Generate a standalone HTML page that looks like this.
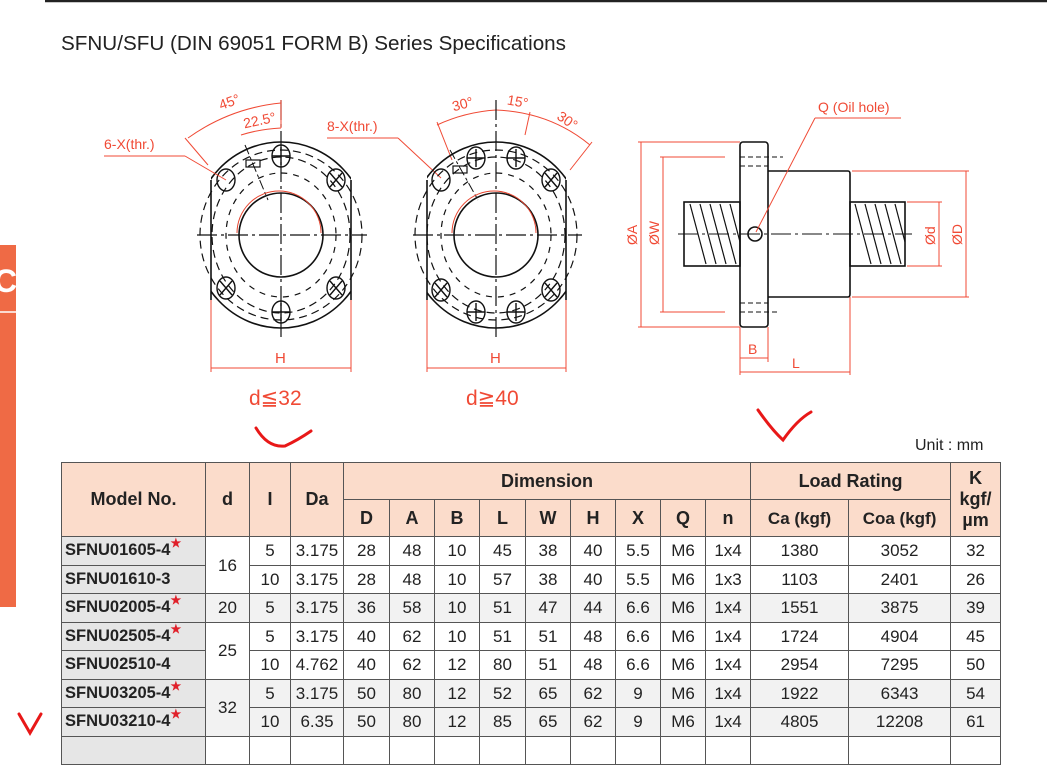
<!DOCTYPE html>
<html><head><meta charset="utf-8">
<style>
body{margin:0;width:1047px;height:739px;overflow:hidden;background:#fff;font-family:"Liberation Sans",sans-serif;position:relative}
svg{position:absolute;left:0;top:0}
table{position:absolute;left:61px;top:462px;border-collapse:collapse;table-layout:fixed;width:939px;font-family:"Liberation Sans",sans-serif;color:#222}
td{border:1.5px solid #555;text-align:center;padding:0;font-size:17px;height:27.5px;line-height:27px}
tr.h td{background:#fbdccb;font-weight:bold;font-size:18px}
td.m{background:#e6e6e6;font-weight:bold;text-align:left;padding-left:3px;font-size:16.5px}
tr.s td{background:#f2f2f2}
tr.s td.m{background:#e6e6e6}
.st{color:#e0202a;font-size:12px;vertical-align:top;line-height:12px}
</style></head><body>
<svg width="1047" height="739" viewBox="0 0 1047 739" font-family="Liberation Sans, sans-serif">
<line x1="45" y1="1" x2="1047" y2="1" stroke="#222" stroke-width="2.5"/>
<rect x="0" y="245" width="16" height="362" fill="#ef6a45"/>
<line x1="0" y1="312" x2="16" y2="312" stroke="#fff" stroke-width="1.5"/>
<text x="-6" y="292" font-size="32" fill="#fff" font-weight="bold">C</text>
<text x="61" y="50" font-size="20" fill="#222" textLength="505" lengthAdjust="spacingAndGlyphs">SFNU/SFU (DIN 69051 FORM B) Series Specifications</text>

<!-- drawing 1 -->
<g fill="none" stroke="#111" stroke-width="1.6">
<clipPath id="c1"><rect x="211" y="100" width="140" height="250"/></clipPath>
<ellipse cx="281" cy="235" rx="88" ry="93" clip-path="url(#c1)"/>
<line x1="211" y1="180" x2="211" y2="300"/><line x1="351" y1="180" x2="351" y2="300"/>
<ellipse cx="281" cy="235" rx="81" ry="85" stroke-dasharray="8,5" stroke-width="1.2"/>
<ellipse cx="281" cy="235" rx="69" ry="78" stroke-dasharray="8,5" stroke-width="1.2"/>
<ellipse cx="281" cy="235" rx="55" ry="62" stroke-dasharray="6,6" stroke-width="1.2"/>
<ellipse cx="281" cy="235" rx="42" ry="42"/>
<g stroke-width="1.4">
<ellipse cx="281" cy="156" rx="9" ry="11"/><ellipse cx="281" cy="312" rx="9" ry="11"/>
<ellipse cx="226" cy="180" rx="9" ry="11"/><ellipse cx="336" cy="180" rx="9" ry="11"/>
<ellipse cx="226" cy="288" rx="9" ry="11"/><ellipse cx="336" cy="288" rx="9" ry="11"/>
<path d="M330 173l12 14M342 173l-12 14M220 281l12 14M232 281l-12 14M330 281l12 14M342 281l-12 14M272 156h18M281 147v18M272 312h18M281 303v18"/>
</g>
<line x1="197" y1="235" x2="367" y2="235" stroke-dasharray="20,4,3,4" stroke-width="1.2"/>
<line x1="281" y1="100" x2="281" y2="337" stroke-dasharray="20,4,3,4" stroke-width="1.2"/>
<line x1="245" y1="145" x2="268" y2="200" stroke-dasharray="10,3,3,3" stroke-width="1"/>
<rect x="246" y="160" width="14" height="7" stroke-width="1.2"/>
</g>
<path d="M239 235 A42 42 0 0 1 323 235" fill="none" stroke="#e8452f" stroke-width="1" transform="translate(-2,-2)"/>
<g stroke="#f04a35" fill="none" stroke-width="1">
<path d="M188 138 Q230 108 281 103"/><line x1="281" y1="100" x2="281" y2="128"/>
<path d="M241 135 Q260 129 281 128"/>
<line x1="185" y1="138" x2="208" y2="165"/>
<line x1="104" y1="156" x2="185" y2="156"/><line x1="185" y1="156" x2="226" y2="180"/>
<line x1="211" y1="300" x2="211" y2="372"/><line x1="351" y1="300" x2="351" y2="372"/>
<line x1="211" y1="368" x2="351" y2="368"/>
<line x1="427" y1="300" x2="427" y2="372"/><line x1="566" y1="300" x2="566" y2="372"/>
<line x1="427" y1="368" x2="566" y2="368"/>
<line x1="327" y1="138" x2="398" y2="138"/><line x1="398" y1="138" x2="441" y2="178"/>
<path d="M437 125 Q465 112 496 110"/><path d="M496 110 Q550 112 590 145"/>
<line x1="437" y1="122" x2="452" y2="160"/><line x1="530" y1="112" x2="525" y2="135"/>
<line x1="592" y1="142" x2="570" y2="170"/>
</g>
<g fill="#f04a35" font-size="14">
<text x="104" y="149">6-X(thr.)</text>
<text x="218" y="107" transform="rotate(-20 228 100)">45°</text>
<text x="243" y="126" transform="rotate(-12 255 120)">22.5°</text>
<text x="327" y="131">8-X(thr.)</text>
<text x="452" y="109" transform="rotate(-15 462 104)">30°</text>
<text x="507" y="106" transform="rotate(10 516 102)">15°</text>
<text x="558" y="124" transform="rotate(35 566 118)">30°</text>
<text x="275" y="363" font-size="15">H</text>
<text x="490" y="363" font-size="15">H</text>
<text x="249" y="405" font-size="21">d≦32</text>
<text x="466" y="405" font-size="21">d≧40</text>
</g>

<!-- drawing 2 -->
<g fill="none" stroke="#111" stroke-width="1.6">
<clipPath id="c2"><rect x="427" y="100" width="139" height="250"/></clipPath>
<ellipse cx="496" cy="235" rx="88" ry="93" clip-path="url(#c2)"/>
<line x1="427" y1="180" x2="427" y2="300"/><line x1="566" y1="180" x2="566" y2="300"/>
<ellipse cx="496" cy="235" rx="81" ry="85" stroke-dasharray="8,5" stroke-width="1.2"/>
<ellipse cx="496" cy="235" rx="69" ry="78" stroke-dasharray="8,5" stroke-width="1.2"/>
<ellipse cx="496" cy="235" rx="55" ry="62" stroke-dasharray="6,6" stroke-width="1.2"/>
<ellipse cx="496" cy="235" rx="42" ry="42"/>
<g stroke-width="1.4">
<ellipse cx="441" cy="180" rx="9" ry="11"/><ellipse cx="476" cy="158" rx="9" ry="11"/>
<ellipse cx="516" cy="158" rx="9" ry="11"/><ellipse cx="551" cy="180" rx="9" ry="11"/>
<ellipse cx="441" cy="290" rx="9" ry="11"/><ellipse cx="476" cy="312" rx="9" ry="11"/>
<ellipse cx="516" cy="312" rx="9" ry="11"/><ellipse cx="551" cy="290" rx="9" ry="11"/>
<path d="M545 173l12 14M557 173l-12 14M435 283l12 14M447 283l-12 14M545 283l12 14M557 283l-12 14M467 158h18M476 149v18M507 158h18M516 149v18M467 312h18M476 303v18M507 312h18M516 303v18"/>
</g>
<line x1="413" y1="235" x2="582" y2="235" stroke-dasharray="20,4,3,4" stroke-width="1.2"/>
<line x1="496" y1="100" x2="496" y2="337" stroke-dasharray="20,4,3,4" stroke-width="1.2"/>
<line x1="450" y1="150" x2="478" y2="200" stroke-dasharray="10,3,3,3" stroke-width="1"/>
<rect x="453" y="166" width="14" height="7" stroke-width="1.2"/>
</g>
<path d="M454 235 A42 42 0 0 1 538 235" fill="none" stroke="#e8452f" stroke-width="1" transform="translate(-2,-2)"/>

<!-- drawing 3 -->
<g fill="none" stroke="#111" stroke-width="1.6">
<rect x="740" y="142" width="28" height="185" rx="3"/>
<path d="M768 171 H848 Q850 171 850 174 V294 Q850 297 848 297 H768"/>
<rect x="684" y="202" width="56" height="64"/>
<rect x="850" y="202" width="55" height="64"/>
<g stroke-width="1.2">
<path d="M690 204l16 60M700 204l16 60M710 204l16 60M720 204l16 60M730 204l10 38"/>
<path d="M855 204l16 60M865 204l16 60M875 204l16 60M885 204l16 60M895 204l10 38"/>
</g>
<ellipse cx="755" cy="234" rx="7" ry="7"/>
<g stroke-width="1" stroke-dasharray="5,3"><line x1="740" y1="157" x2="783" y2="157"/><line x1="740" y1="166" x2="768" y2="166"/><line x1="740" y1="303" x2="768" y2="303"/><line x1="740" y1="312" x2="780" y2="312"/></g>
<line x1="678" y1="234" x2="912" y2="234" stroke-dasharray="20,4,3,4" stroke-width="1"/>
</g>
<g stroke="#f04a35" fill="none" stroke-width="1">
<line x1="638" y1="142" x2="740" y2="142"/><line x1="638" y1="327" x2="740" y2="327"/>
<line x1="641" y1="142" x2="641" y2="327"/>
<line x1="660" y1="157" x2="725" y2="157"/><line x1="660" y1="312" x2="725" y2="312"/>
<line x1="663" y1="157" x2="663" y2="312"/>
<line x1="852" y1="171" x2="969" y2="171"/><line x1="852" y1="297" x2="969" y2="297"/>
<line x1="966" y1="171" x2="966" y2="297"/>
<line x1="907" y1="202" x2="942" y2="202"/><line x1="907" y1="266" x2="942" y2="266"/>
<line x1="939" y1="202" x2="939" y2="266"/>
<line x1="740" y1="327" x2="740" y2="375"/><line x1="768" y1="327" x2="768" y2="362"/><line x1="850" y1="297" x2="850" y2="375"/>
<line x1="740" y1="358" x2="768" y2="358"/><line x1="740" y1="372" x2="850" y2="372"/>
<line x1="815" y1="118" x2="901" y2="118"/><line x1="815" y1="118" x2="756" y2="232"/>
</g>
<g fill="#f04a35" font-size="14">
<text x="818" y="112">Q (Oil hole)</text>
<text x="748" y="354">B</text><text x="792" y="368">L</text>
<text transform="translate(637 245) rotate(-90)">ØA</text>
<text transform="translate(659 245) rotate(-90)">ØW</text>
<text transform="translate(935 245) rotate(-90)">Ød</text>
<text transform="translate(962 245) rotate(-90)">ØD</text>
</g>
<text x="915" y="450" font-size="16" fill="#222">Unit : mm</text>
<g stroke="#e81818" stroke-width="3" fill="none" stroke-linecap="round">
<path d="M256 428 Q268 448 285 446 Q298 440 311 431"/>
<path d="M758 410 Q772 430 783 440 Q797 420 811 412"/>
<path d="M19 714 L30 733 L41 714"/>
</g>
</svg>
<table>
<colgroup><col style="width:144px"><col style="width:44px"><col style="width:41px"><col style="width:53px"><col style="width:46px"><col style="width:45px"><col style="width:45px"><col style="width:46px"><col style="width:45px"><col style="width:45px"><col style="width:45px"><col style="width:45px"><col style="width:45px"><col style="width:98px"><col style="width:102px"><col style="width:50px"></colgroup>
<tr class="h"><td rowspan="2" style="height:73px">Model No.</td><td rowspan="2">d</td><td rowspan="2">I</td><td rowspan="2">Da</td><td colspan="9" style="height:36px">Dimension</td><td colspan="2">Load Rating</td><td rowspan="2" style="line-height:21px">K<br>kgf/<br>µm</td></tr>
<tr class="h"><td style="height:36px">D</td><td>A</td><td>B</td><td>L</td><td>W</td><td>H</td><td>X</td><td>Q</td><td>n</td><td style="font-size:17px">Ca (kgf)</td><td style="font-size:17px">Coa (kgf)</td></tr>
<tr><td class="m">SFNU01605-4<span class="st">★</span></td><td rowspan="2" style="background:#fff">16</td><td>5</td><td>3.175</td><td>28</td><td>48</td><td>10</td><td>45</td><td>38</td><td>40</td><td>5.5</td><td>M6</td><td>1x4</td><td>1380</td><td>3052</td><td>32</td></tr>
<tr><td class="m">SFNU01610-3</td><td>10</td><td>3.175</td><td>28</td><td>48</td><td>10</td><td>57</td><td>38</td><td>40</td><td>5.5</td><td>M6</td><td>1x3</td><td>1103</td><td>2401</td><td>26</td></tr>
<tr class="s"><td class="m">SFNU02005-4<span class="st">★</span></td><td>20</td><td>5</td><td>3.175</td><td>36</td><td>58</td><td>10</td><td>51</td><td>47</td><td>44</td><td>6.6</td><td>M6</td><td>1x4</td><td>1551</td><td>3875</td><td>39</td></tr>
<tr><td class="m">SFNU02505-4<span class="st">★</span></td><td rowspan="2">25</td><td>5</td><td>3.175</td><td>40</td><td>62</td><td>10</td><td>51</td><td>51</td><td>48</td><td>6.6</td><td>M6</td><td>1x4</td><td>1724</td><td>4904</td><td>45</td></tr>
<tr><td class="m">SFNU02510-4</td><td>10</td><td>4.762</td><td>40</td><td>62</td><td>12</td><td>80</td><td>51</td><td>48</td><td>6.6</td><td>M6</td><td>1x4</td><td>2954</td><td>7295</td><td>50</td></tr>
<tr class="s"><td class="m">SFNU03205-4<span class="st">★</span></td><td rowspan="2">32</td><td>5</td><td>3.175</td><td>50</td><td>80</td><td>12</td><td>52</td><td>65</td><td>62</td><td>9</td><td>M6</td><td>1x4</td><td>1922</td><td>6343</td><td>54</td></tr>
<tr class="s"><td class="m">SFNU03210-4<span class="st">★</span></td><td>10</td><td>6.35</td><td>50</td><td>80</td><td>12</td><td>85</td><td>65</td><td>62</td><td>9</td><td>M6</td><td>1x4</td><td>4805</td><td>12208</td><td>61</td></tr>
<tr><td class="m">&nbsp;</td><td></td><td></td><td></td><td></td><td></td><td></td><td></td><td></td><td></td><td></td><td></td><td></td><td></td><td></td><td></td></tr>
</table>
</body></html>
